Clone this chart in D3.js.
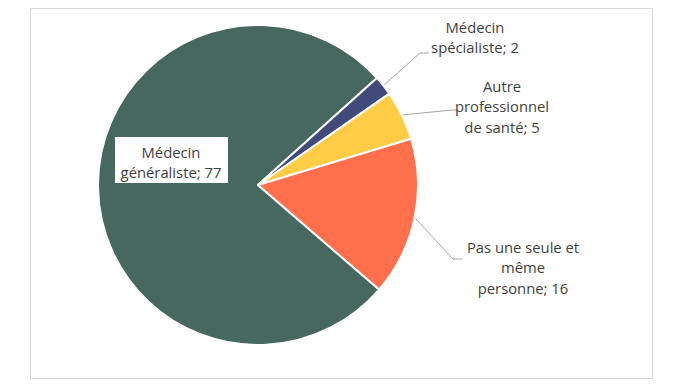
<!DOCTYPE html>
<html><head><meta charset="utf-8">
<script src="https://cdn.jsdelivr.net/npm/d3@7"></script>
<style>body{margin:0;background:#fff;} svg{display:block;} text{font-family:"Open Sans","Noto Sans",sans-serif;}</style>
</head><body>
<svg id="c" width="683" height="387"></svg>
<script>
const categories = ["Médecin généraliste", "Médecin spécialiste", "Autre professionnel de santé", "Pas une seule et même personne"];
const values = [77, 2, 5, 16];
const labelLines = [["Médecin", "généraliste; 77"], ["Médecin", "spécialiste; 2"], ["Autre", "professionnel", "de santé; 5"], ["Pas une seule et", "même", "personne; 16"]];
const colors = ["#46685F", "#414A7A", "#FFCC45", "#FF6F4B"];

const svg = d3.select("#c");
svg.append("rect").attr("x", 30.5).attr("y", 8.5).attr("width", 622).attr("height", 370)
  .attr("fill", "#fff").attr("stroke", "#d9d9d9").attr("stroke-width", 1);

const cx = 258, cy = 185, R = 160;
const start = 130.8 * Math.PI / 180;
const pie = d3.pie().sort(null).startAngle(start).endAngle(start + 2 * Math.PI);
const arcs = pie(values);
const arc = d3.arc().innerRadius(0).outerRadius(R);
const g = svg.append("g").attr("transform", `translate(${cx},${cy})`);
g.selectAll("path").data(arcs).join("path")
  .attr("d", arc).attr("fill", (d, i) => colors[i])
  .attr("stroke", "#fff").attr("stroke-width", 2).attr("stroke-linejoin", "round");

const labelPos = [
  {x: 171, y: 153, box: true},
  {x: 475, y: 28, line: [[420, 53], [429, 53]]},
  {x: 502, y: 87, line: [[452, 110], [458, 110]]},
  {x: 523, y: 248, line: [[453, 259], [462, 259]]}
];
const lh = 20.2;
arcs.forEach((d, i) => {
  const p = labelPos[i];
  const lines = labelLines[i];
  if (p.line) {
    const mid = (d.startAngle + d.endAngle) / 2;
    const ex = cx + Math.sin(mid) * (R + 1), ey = cy - Math.cos(mid) * (R + 1);
    const pts = [[ex, ey]].concat(p.line);
    svg.append("path").attr("d", d3.line()(pts)).attr("fill", "none")
      .attr("stroke", "#a6a6a6").attr("stroke-width", 1);
  }
  if (p.box) {
    svg.append("rect").attr("x", 115).attr("y", 137).attr("width", 113).attr("height", 46).attr("fill", "#fff");
  }
  const t = svg.append("text").attr("text-anchor", "middle").attr("fill", "#3f3f3f").attr("font-size", 14.8);
  lines.forEach((l, k) => t.append("tspan").attr("x", p.x).attr("y", p.y + k * lh).attr("dy", "0.35em").text(l));
});
</script>
</body></html>
